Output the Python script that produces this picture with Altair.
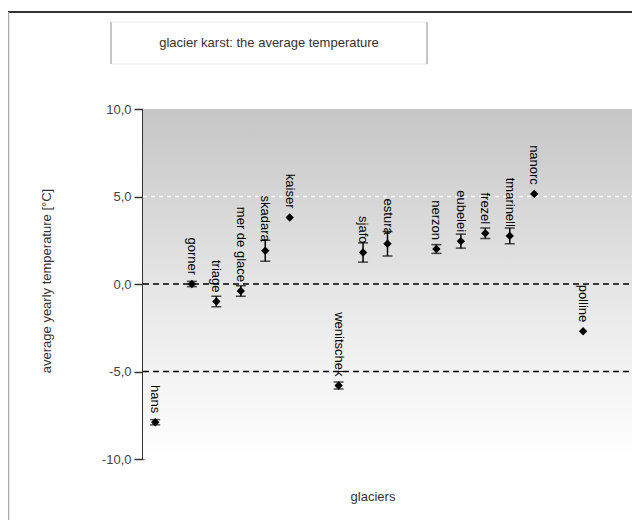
import altair as alt
import pandas as pd

# ---- data ----
names = ["hans", "gorner", "triage", "mer de glace", "skadara", "kaiser",
         "wenitschek", "sjafo", "estura", "nerzon", "eubelei", "frezel",
         "tmarinell", "nanorc", "polline"]
positions = [0.5, 2, 3, 4, 5, 6, 8, 9, 10, 12, 13, 14, 15, 16, 18]
temps = [-7.9, 0.0, -1.0, -0.4, 1.9, 3.8, -5.8, 1.8, 2.3, 2.0, 2.45, 2.9, 2.75, 5.15, -2.7]
errors = [0.15, 0.15, 0.3, 0.3, 0.6, 0.0, 0.2, 0.55, 0.7, 0.25, 0.4, 0.3, 0.45, 0.0, 0.0]
y_ticks = [-10, -5, 0, 5, 10]
dashed_levels = [0, -5]
dotted_levels = [5]

W, H = 489, 350
FONT = "Liberation Sans"

df = pd.DataFrame({"name": names, "pos": positions, "temp": temps, "err": errors})
df["lo"] = df["temp"] - df["err"]
df["hi"] = df["temp"] + df["err"]
err_df = df[df["err"] > 0]

xs = alt.Scale(domain=[0, 20], nice=False, zero=False)
ys = alt.Scale(domain=[-10, 10], nice=False, zero=False)

one = pd.DataFrame({"k": [0]})

# background gradient of the plot area
bg = alt.Chart(one).mark_rect(
    fill=alt.Gradient(gradient="linear",
                      stops=[alt.GradientStop(color="#c6c6c6", offset=0),
                             alt.GradientStop(color="#ebebeb", offset=0.6),
                             alt.GradientStop(color="#ffffff", offset=1)],
                      x1=0, x2=0, y1=0, y2=1)
).encode(x=alt.value(0), x2=alt.value(W), y=alt.value(0), y2=alt.value(H))

# outer frame
frame_top = alt.Chart(one).mark_rule(color="#333333", strokeWidth=2).encode(
    x=alt.value(-135), x2=alt.value(W + 10), y=alt.value(-97))
frame_left = alt.Chart(one).mark_rule(color="#aaaaaa", strokeWidth=1.5).encode(
    x=alt.value(-134.5), y=alt.value(-97), y2=alt.value(H + 70))

# title box
title_box = alt.Chart(one).mark_rect(fill="white", stroke="#ececec", strokeWidth=1).encode(
    x=alt.value(-32), x2=alt.value(284), y=alt.value(-87), y2=alt.value(-45))
title_l = alt.Chart(one).mark_rule(color="#999999", strokeWidth=1).encode(
    x=alt.value(-32), y=alt.value(-87), y2=alt.value(-45))
title_r = alt.Chart(one).mark_rule(color="#999999", strokeWidth=1).encode(
    x=alt.value(284), y=alt.value(-87), y2=alt.value(-45))
title_txt = alt.Chart(one).mark_text(
    text="glacier karst: the average temperature", font=FONT, fontSize=13,
    color="#333333", align="center", baseline="middle"
).encode(x=alt.value(126), y=alt.value(-66))

ytitle = alt.Chart(one).mark_text(
    text="average yearly temperature [°C]", font=FONT, fontSize=13,
    color="#333333", angle=270, align="center", baseline="middle"
).encode(x=alt.value(-96), y=alt.value(172))

xtitle = alt.Chart(one).mark_text(
    text="glaciers", font=FONT, fontSize=13, color="#333333",
    align="center", baseline="middle"
).encode(x=alt.value(230), y=alt.value(388))

dash_df = pd.DataFrame({"lvl": dashed_levels})
dashed = alt.Chart(dash_df).mark_rule(color="black", strokeWidth=1.5, strokeDash=[6, 4]).encode(
    y=alt.Y("lvl:Q", scale=ys), x=alt.value(0), x2=alt.value(W))
dot_df = pd.DataFrame({"lvl": dotted_levels})
dotted = alt.Chart(dot_df).mark_rule(color="white", strokeWidth=1.5, strokeDash=[4, 4]).encode(
    y=alt.Y("lvl:Q", scale=ys), x=alt.value(0), x2=alt.value(W))

axis_layer = alt.Chart(pd.DataFrame({"t": y_ticks})).mark_point(opacity=0).encode(
    y=alt.Y("t:Q", scale=ys,
            axis=alt.Axis(values=y_ticks, title=None, grid=False,
                          labelExpr="replace(replace(format(datum.value, '.1f'), '.', ','), '\u2212', '-')",
                          labelFont=FONT, labelFontSize=13, labelColor="#444444",
                          domainColor="#333333", domainWidth=3,
                          tickColor="#333333", tickSize=9, tickWidth=1.5,
                          labelPadding=3))
)

rules = alt.Chart(err_df).mark_rule(color="black", strokeWidth=1.5).encode(
    x=alt.X("pos:Q", scale=xs, axis=None),
    y=alt.Y("lo:Q", scale=ys),
    y2="hi:Q")
caps_lo = alt.Chart(err_df).mark_tick(color="black", orient="horizontal", size=10, thickness=1.5).encode(
    x=alt.X("pos:Q", scale=xs, axis=None), y=alt.Y("lo:Q", scale=ys))
caps_hi = alt.Chart(err_df).mark_tick(color="black", orient="horizontal", size=10, thickness=1.5).encode(
    x=alt.X("pos:Q", scale=xs, axis=None), y=alt.Y("hi:Q", scale=ys))

points = alt.Chart(df).mark_point(shape="diamond", filled=True, color="black", size=70, opacity=1).encode(
    x=alt.X("pos:Q", scale=xs, axis=None),
    y=alt.Y("temp:Q", scale=ys))

labels = alt.Chart(df).mark_text(font=FONT, fontSize=13, color="black", angle=90,
                                 align="right", baseline="middle", dx=-9).encode(
    x=alt.X("pos:Q", scale=xs, axis=None),
    y=alt.Y("temp:Q", scale=ys),
    text="name:N")

chart = alt.layer(
    frame_top, frame_left, title_box, title_l, title_r, title_txt, bg, dotted, dashed,
    axis_layer, rules, caps_lo, caps_hi, points, labels, ytitle, xtitle
).properties(
    width=W, height=H,
    autosize=alt.AutoSizeParams(type="none"),
    padding={"left": 135, "top": 101, "right": 0, "bottom": 61},
    background="white"
).configure_view(stroke=None)

chart.save("out.html", embed_options={"renderer": "svg", "actions": False})
